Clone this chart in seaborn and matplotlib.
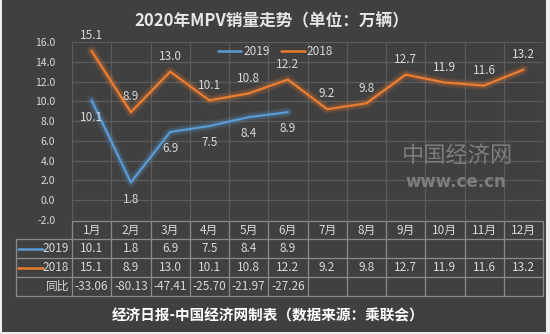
import matplotlib
matplotlib.use("Agg")
import matplotlib.pyplot as plt
import matplotlib.patheffects as pe
from matplotlib.patches import Rectangle
from matplotlib.lines import Line2D
import seaborn as sns
import pandas as pd
import numpy as np

months = ["1月", "2月", "3月", "4月", "5月", "6月", "7月", "8月", "9月", "10月", "11月", "12月"]
sales_2019 = [10.1, 1.8, 6.9, 7.5, 8.4, 8.9]
sales_2018 = [15.1, 8.9, 13.0, 10.1, 10.8, 12.2, 9.2, 9.8, 12.7, 11.9, 11.6, 13.2]
yoy = ["-33.06", "-80.13", "-47.41", "-25.70", "-21.97", "-27.26"]
yticks = [-2.0, 0.0, 2.0, 4.0, 6.0, 8.0, 10.0, 12.0, 14.0, 16.0]
title = "2020年MPV销量走势（单位：万辆）"
footer = "经济日报-中国经济网制表（数据来源：乘联会）"

BLUE = "#5B9BD5"
ORANGE = "#ED7D31"
BG = "#404040"
TXT = "#d9d9d9"
GRID = "#5c5c5c"
TLINE = "#8a8a8a"

sns.set_theme(style="dark")
plt.rcParams['font.family'] = ['Noto Sans CJK SC', 'DejaVu Sans']

W, H = 550, 334
fig = plt.figure(figsize=(5.5, 3.34), dpi=100)
fig.patch.set_facecolor("#eeeeee")

def fx(x):
    return x / W

def fy(y):
    return 1 - y / H

bgrect = Rectangle((fx(2), fy(332)), fx(544), 332 / H, transform=fig.transFigure,
                   facecolor=BG, edgecolor="none", zorder=-5)
fig.patches.append(bgrect)

ax = fig.add_axes([fx(72), fy(220), fx(543 - 72), (220 - 42) / H])
ax.set_zorder(2)
ax.set_facecolor(BG)

df = pd.DataFrame({
    "x": list(range(len(sales_2019))) + list(range(len(sales_2018))),
    "v": sales_2019 + sales_2018,
    "s": ["2019"] * len(sales_2019) + ["2018"] * len(sales_2018),
})

for name, col in [("2019", BLUE), ("2018", ORANGE)]:
    sub = df[df.s == name]
    sns.lineplot(data=sub, x="x", y="v", ax=ax, color=col, linewidth=1.6, label=name,
                 path_effects=[pe.Stroke(linewidth=7, foreground=col, alpha=0.12),
                               pe.Stroke(linewidth=4.5, foreground=col, alpha=0.18),
                               pe.Normal()], zorder=3)

ax.set_xlim(-0.5, 11.5)
ax.set_ylim(-2, 16)
ax.set_yticks(yticks)
ax.set_yticklabels([f"{t:.1f}" for t in yticks], color=TXT, fontsize=7.5)
ax.set_xticks(np.arange(-0.5, 12, 1))
ax.set_xticklabels([])
ax.tick_params(axis="y", length=0, pad=12)
ax.tick_params(axis="x", length=0)
ax.grid(True, color=GRID, linewidth=0.9)
for s in ax.spines.values():
    s.set_visible(False)
ax.set_xlabel("")
ax.set_ylabel("")

for i, v in enumerate(sales_2018):
    ax.annotate(f"{v:.1f}", (i, v), xytext=(0, 11), textcoords="offset points",
                ha="center", va="center", color=TXT, fontsize=8.5)
for i, v in enumerate(sales_2019):
    ax.annotate(f"{v:.1f}", (i, v), xytext=(0, -12), textcoords="offset points",
                ha="center", va="center", color=TXT, fontsize=8.5)

leg = ax.legend(ncol=2, loc="center", bbox_to_anchor=(0.432, 0.944), frameon=False,
                handlelength=2.0, columnspacing=1.0, handletextpad=0.15, fontsize=8.5)
for t in leg.get_texts():
    t.set_color(TXT)
for h in leg.legend_handles:
    h.set_path_effects([])
    h.set_linewidth(1.8)

# watermark
fig.text(fx(457), fy(156), "中国经济网", color="#7d7d7d", fontsize=16, ha="center", va="center")
fig.text(fx(456), fy(182), "www.ce.cn", color="#7d7d7d", fontsize=12, fontweight="bold",
         ha="center", va="center", family=["DejaVu Sans"])

# table
xs = [72 + k * (543 - 72) / 12 for k in range(13)]
rows_y = [221, 239, 258, 277, 296]

def hline(x0, x1, y):
    fig.add_artist(Line2D([fx(x0), fx(x1)], [fy(y), fy(y)], transform=fig.transFigure,
                          color=TLINE, linewidth=0.9))

def vline(x, y0, y1):
    fig.add_artist(Line2D([fx(x), fx(x)], [fy(y0), fy(y1)], transform=fig.transFigure,
                          color=TLINE, linewidth=0.9))

hline(72, 543, rows_y[0])
for y in rows_y[1:]:
    hline(16, 543, y)
vline(16, rows_y[1], rows_y[4])
for x in xs:
    vline(x, rows_y[0], rows_y[4])

def cy(r):
    return (rows_y[r] + rows_y[r + 1]) / 2

TFS = 8.5
for i, m in enumerate(months):
    cx = (xs[i] + xs[i + 1]) / 2
    fig.text(fx(cx), fy(cy(0)), m, color=TXT, fontsize=TFS, ha="center", va="center")
for i, v in enumerate(sales_2019):
    cx = (xs[i] + xs[i + 1]) / 2
    fig.text(fx(cx), fy(cy(1)), f"{v:.1f}", color=TXT, fontsize=TFS, ha="center", va="center")
for i, v in enumerate(sales_2018):
    cx = (xs[i] + xs[i + 1]) / 2
    fig.text(fx(cx), fy(cy(2)), f"{v:.1f}", color=TXT, fontsize=TFS, ha="center", va="center")
for i, v in enumerate(yoy):
    cx = (xs[i] + xs[i + 1]) / 2
    fig.text(fx(cx), fy(cy(3)), v, color=TXT, fontsize=TFS, ha="center", va="center")

for r, name, col in [(1, "2019", BLUE), (2, "2018", ORANGE)]:
    fig.add_artist(Line2D([fx(18), fx(43)], [fy(cy(r)), fy(cy(r))], transform=fig.transFigure,
                          color=col, linewidth=1.8))
    fig.text(fx(69), fy(cy(r)), name, color=TXT, fontsize=TFS, ha="right", va="center")
fig.text(fx(69), fy(cy(3)), "同比", color=TXT, fontsize=TFS, ha="right", va="center")

fig.text(fx(272), fy(21), title, color="#e6e6e6", fontsize=12, fontweight="bold",
         ha="center", va="center")
fig.text(fx(268), fy(315), footer, color="#ffffff", fontsize=10.5, fontweight="bold",
         ha="center", va="center")

fig.savefig("out.png", dpi=100, facecolor=fig.get_facecolor())
